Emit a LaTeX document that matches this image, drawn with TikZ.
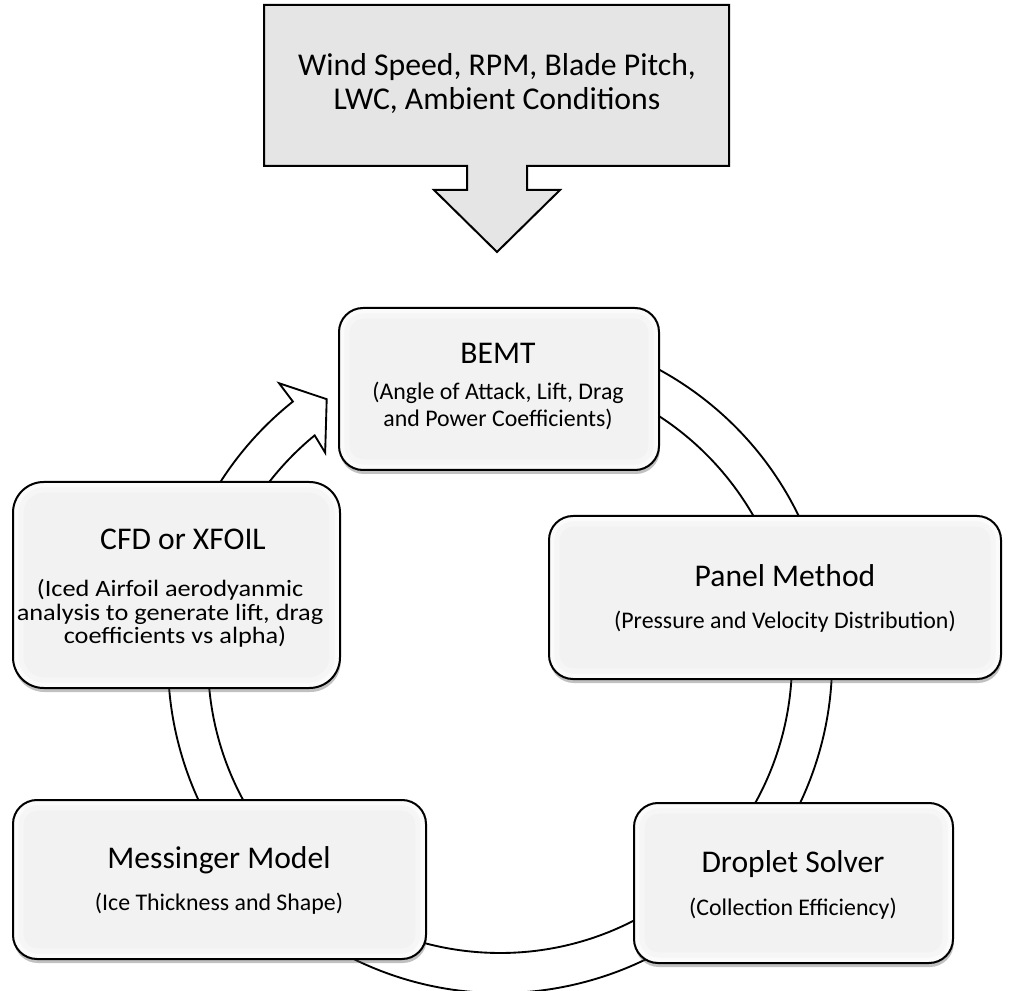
\documentclass[tikz,border=0pt]{standalone}
\usepackage{fontspec}
\setmainfont{Carlito}
\newfontfamily\widecarlito[FakeStretch=1.12]{Carlito}
\usetikzlibrary{calc,shadows}
\definecolor{boxfill}{HTML}{F2F2F2}
\definecolor{inputfill}{HTML}{E5E5E5}
\tikzset{
  box/.style={draw=black, line width=1.5pt, fill=boxfill, rounded corners=#1, inner sep=0pt,
    drop shadow={shadow xshift=0.6pt, shadow yshift=-3pt, opacity=0.35, fill=black!70},
    path picture={
      \draw[white, line width=16pt, opacity=0.35, rounded corners=#1]
        (path picture bounding box.south west) rectangle (path picture bounding box.north east);
      \draw[white, line width=8pt, opacity=0.6, rounded corners=#1]
        (path picture bounding box.south west) rectangle (path picture bounding box.north east);}},
  box/.default=18pt,
  ttl/.style={font=\fontsize{23.7}{28}\selectfont, inner sep=0pt, anchor=base},
  sub/.style={font=\fontsize{17.9}{21}\selectfont, inner sep=0pt, anchor=base},
  subbig/.style={font=\widecarlito\fontsize{17.6}{19}\selectfont, inner sep=0pt, anchor=base},
  ringline/.style={draw=black, line width=1.4pt, fill=white, line join=miter},
  inputshape/.style={draw=black, line width=1.5pt, fill=inputfill, line join=miter}
}
\begin{document}
\begin{tikzpicture}[x=0.75pt, y=-0.75pt]
\useasboundingbox (0,0) rectangle (1015,991);

% input block arrow
\draw[inputshape] (264,5) -- (729,5) -- (729,166) -- (527,166) -- (527,190) -- (560,190)
  -- (497,252) -- (434,190) -- (467,190) -- (467,166) -- (264,166) -- cycle;
\node[ttl, font=\fontsize{23.8}{28}\selectfont] (in1) at (497,76) {Wind Speed, RPM, Blade Pitch,};
\node[ttl, font=\fontsize{23.8}{28}\selectfont] (in2) at (497,110) {LWC, Ambient Conditions};

% circular arrow
\coordinate (c) at (500,661);
\draw[ringline] ($(c)+(-105:332)$) arc[start angle=-105, end angle=231.4, radius=332]
  -- ($(c)+(231.5:355)$) -- ($(c)+(236.5:314)$) -- ($(c)+(230:272)$)
  -- ($(c)+(230.6:292)$) arc[start angle=230.6, end angle=-105, radius=292] -- cycle;

% boxes
\node[box, minimum width=240pt, minimum height=121.5pt] (bemt) at (499,389) {};
\node[box, minimum width=339pt, minimum height=122.25pt] (panel) at (775,597.5) {};
\node[box=23pt, minimum width=245.25pt, minimum height=154.5pt] (cfd) at (176.5,585) {};
\node[box, minimum width=309.75pt, minimum height=119.25pt] (mess) at (219.5,879.5) {};
\node[box, minimum width=239.25pt, minimum height=120pt] (drop) at (793.5,883) {};

% texts
\node[ttl] (bemt-t) at (498,364) {BEMT};
\node[sub] (bemt-s1) at (498,400) {(Angle of Attack, Lift, Drag};
\node[sub] (bemt-s2) at (498,427) {and Power Coefficients)};

\node[ttl] (panel-t) at (785,586) {Panel Method};
\node[sub] (panel-s) at (785,628) {(Pressure and Velocity Distribution)};

\node[ttl] (cfd-t) at (183,550) {CFD or XFOIL};
\node[subbig] (cfd-s1) at (170,596) {(Iced Airfoil aerodyanmic};
\node[subbig] (cfd-s2) at (170,620) {analysis to generate lift, drag};
\node[subbig] (cfd-s3) at (175,643) {coefficients vs alpha)};

\node[ttl] (mess-t) at (219,868) {Messinger Model};
\node[sub] (mess-s) at (219,910) {(Ice Thickness and Shape)};

\node[ttl] (drop-t) at (793,872) {Droplet Solver};
\node[sub] (drop-s) at (793,915) {(Collection Efficiency)};
\end{tikzpicture}
\end{document}
